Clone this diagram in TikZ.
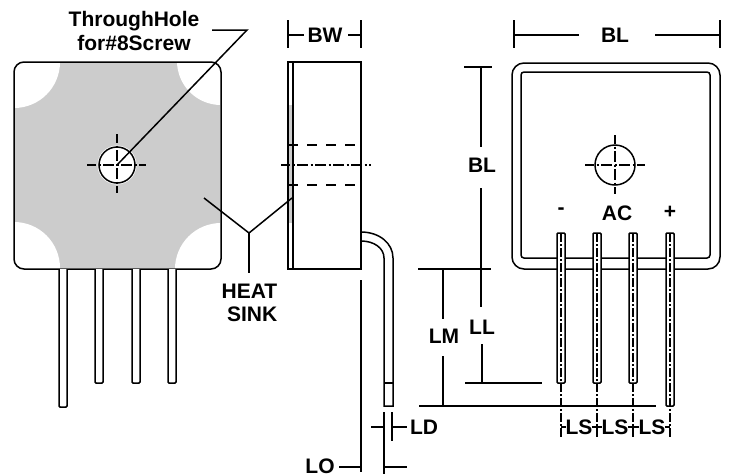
\documentclass[tikz,border=0pt]{standalone}
\usepackage{fontspec}
\setmainfont{Liberation Sans}
\usepackage{xcolor}
\usetikzlibrary{positioning}
\definecolor{sinkgray}{gray}{0.8}
\tikzset{
  every picture/.style={x=1pt,y=-1pt,line width=1.5pt},
  dimlabel/.style={font=\bfseries\fontsize{21}{23}\selectfont,inner sep=0pt,align=center},
  centerline/.style={line width=1.3pt,dash pattern=on 11pt off 2.5pt on 2pt off 2.5pt,dash phase=2pt},
  hiddenline/.style={line width=1.3pt,dash pattern=on 9.5pt off 9.5pt},
  pincenter/.style={line width=1.1pt,dash pattern=on 9pt off 2pt on 2pt off 2pt},
}
\begin{document}
\begin{tikzpicture}
        \useasboundingbox (0,0) rectangle (730,475);

        % Front view with the heat sink
        \fill[sinkgray] (15,63) rectangle (220,268);
        \fill[white] (14,62) -- (60,62) arc[start angle=0,end angle=90,radius=46] -- cycle;
        \fill[white] (221,62) -- (221,105) arc[start angle=90,end angle=180,radius=44] -- cycle;
        \fill[white] (14,269) -- (14,222) arc[start angle=270,end angle=360,radius=46] -- cycle;
        \fill[white] (221,269) -- (175,269) arc[start angle=180,end angle=270,radius=46] -- cycle;
        \draw[rounded corners=10pt] (14,62) rectangle (221,269);
        \foreach \px/\py in {59/407, 95/383, 132/383, 168/383} {
          \draw[fill=white,rounded corners=1pt] (\px,269) -- (\px,\py) -- (\px+8,\py) -- (\px+8,269);
        }
        \fill[white] (117,165) circle (19.5);
        \draw (117,165) circle (18);
        \draw[centerline] (87,165) -- (146,165);
        \draw[centerline] (117,134) -- (117,193);

        % Side view
        \fill[sinkgray] (288,105) rectangle (293,223);
        \draw (288,62) rectangle (361,269);
        \draw (293,62) -- (293,269);
        \draw[hiddenline] (288,145) -- (356,145);
        \draw[hiddenline] (288,185) -- (356,185);
        \draw[centerline] (281,165) -- (371,165);
        \draw (361,232) .. controls (379,232) and (393,243) .. (393,258) -- (393,406) -- (384,406) -- (384,258) .. controls (384,248) and (374,241) .. (361,241);
        \draw (384,383) -- (393,383);

        % Back view
        \draw[rounded corners=12pt] (512,63) rectangle (720,269);
        \draw[rounded corners=3pt] (521,72) rectangle (710,258);
        \draw (615,165) circle (20);
        \draw[centerline] (585,165) -- (645,165);
        \draw[centerline] (615,135) -- (615,194);
        \foreach \px/\py in {557/383, 593/383, 629/383, 666/406} {
          \draw[fill=white,rounded corners=1pt] (\px,233) rectangle (\px+8,\py);
          \draw[pincenter] (\px+4,233) -- (\px+4,438);
        }

        % Labels
        \node[dimlabel] (hole) at (134,31) {ThroughHole\\[1pt]for\#8Screw};
        \node[dimlabel,align=right,anchor=east] (sink) at (278,303) {HEAT\\SINK};
        \node[dimlabel] (bw) at (325,35) {BW};
        \node[dimlabel] (bltop) at (615,35) {BL};
        \node[dimlabel] (blside) at (482,165) {BL};
        \node[dimlabel] (ll) at (482,327) {LL};
        \node[dimlabel] (lm) at (444,336) {LM};
        \node[dimlabel] (ld) at (424,427) {LD};
        \node[dimlabel] (lo) at (320,466) {LO};
        \node[dimlabel] (minus) at (561,211) {-};
        \node[dimlabel] (ac) at (617,213) {AC};
        \node[dimlabel] (plus) at (670,212) {+};
        \node[dimlabel] (lsa) at (579,427) {LS};
        \node[dimlabel] (lsb) at (615,427) {LS};
        \node[dimlabel] (lsc) at (652,427) {LS};

        % Leaders
        \coordinate (holeend) at (247,30);
        \coordinate (holeknee) at (212,30);
        \draw (holeknee) -- (holeend) -- (117,165);
        \coordinate (sinkjoin) at (249,233);
        \draw (204,198) -- (sinkjoin) -- (292,198);
        \draw (sinkjoin) -- (249,273);

        % Dimension lines
        \draw (288,20) -- (288,48);
        \draw (361,20) -- (361,48);
        \draw (288,35) -- (304,35);
        \draw (348,35) -- (361,35);
        \draw (514,20) -- (514,48);
        \draw (720,20) -- (720,48);
        \draw (514,35) -- (579,35);
        \draw (655,35) -- (720,35);
        \draw (464,67) -- (492,67);
        \draw (481,67) -- (481,147);
        \draw (481,188) -- (481,307);
        \draw (418,269) -- (491,269);
        \draw (482,344) -- (482,383);
        \draw (465,383) -- (542,383);
        \draw (443,269) -- (443,319);
        \draw (443,356) -- (443,406);
        \draw (419,406) -- (656,406);
        \draw (361,280) -- (361,472);
        \draw (384,412) -- (384,474);
        \draw (392,412) -- (392,441);
        \draw (371,427) -- (384,427);
        \draw (392,427) -- (407,427);
        \draw (339,467) -- (361,467);
        \draw (384,467) -- (407,467);
        \draw (561,427) -- (566,427);
        \draw (592,427) -- (602,427);
        \draw (628,427) -- (639,427);
        \draw (665,427) -- (670,427);
\end{tikzpicture}
\end{document}
